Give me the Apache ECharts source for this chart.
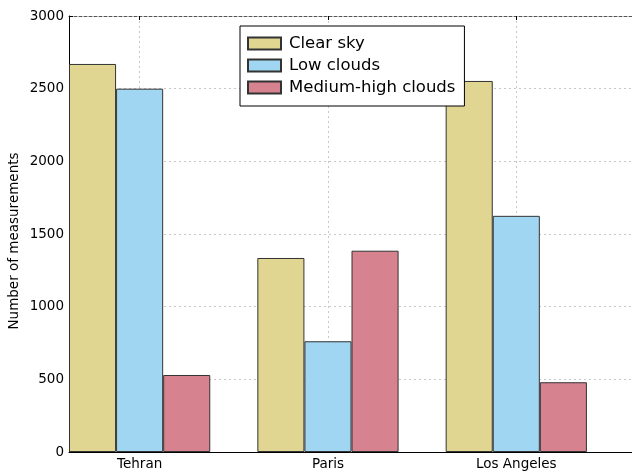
<!DOCTYPE html>
<html>
<head>
<meta charset="utf-8">
<script src="https://cdn.jsdelivr.net/npm/echarts@6/dist/echarts.min.js"></script>
<style>
html,body{margin:0;padding:0;background:#fff;}
#chart{width:632px;height:472px;}
</style>
</head>
<body>
<div id="chart"></div>
<script>
const cities = ['Tehran', 'Paris', 'Los Angeles'];
const seriesNames = ['Clear sky', 'Low clouds', 'Medium-high clouds'];
const clearSky = [2670, 1335, 2553];
const lowClouds = [2500, 762, 1625];
const mediumHighClouds = [530, 1385, 480];
const yTicks = [0, 500, 1000, 1500, 2000, 2500, 3000];
const colors = ['#e0d591', '#a0d6f1', '#d6828f'];

// 4 slots per city: 3 bars + 1 gap; city label on the middle bar slot
const slotCats = [];
cities.forEach(c => { slotCats.push(c + '#0', c, c + '#2', c + '#gap'); });
const labelOf = v => (v.indexOf('#') >= 0 ? '' : v);
const isLabelIdx = i => i % 4 === 1;

function buildSeriesData(vals, offset) {
  const out = slotCats.map(() => '-');
  vals.forEach((v, i) => { out[i * 4 + offset] = v; });
  return out;
}
const allVals = [clearSky, lowClouds, mediumHighClouds];

const chart = echarts.init(document.getElementById('chart'), null, {renderer: 'canvas'});
const font = 'DejaVu Sans';
chart.setOption({
  animation: false,
  textStyle: {fontFamily: font},
  grid: {left: 69, top: 16, bottom: 20, right: -2, containLabel: false, outerBoundsMode: 'none'},
  legend: {
    data: seriesNames,
    orient: 'vertical',
    left: 240, top: 26,
    padding: [9, 9, 10, 7],
    itemWidth: 33, itemHeight: 12, itemGap: 5,
    backgroundColor: '#fff',
    borderColor: '#000', borderWidth: 1, borderRadius: 0,
    icon: 'rect',
    textStyle: {fontFamily: font, fontSize: 16.5, lineHeight: 17, color: '#000', padding: [0, 0, 0, 3]}
  },
  xAxis: [{
    type: 'category',
    data: slotCats,
    position: 'bottom',
    boundaryGap: true,
    axisLine: {lineStyle: {color: '#000', width: 1}},
    axisTick: {show: true, inside: true, length: 4, alignWithLabel: true, interval: isLabelIdx, lineStyle: {color: '#000'}},
    axisLabel: {interval: isLabelIdx, formatter: labelOf, color: '#000', fontSize: 13.5, fontFamily: font, margin: 5},
    splitLine: {show: true, interval: isLabelIdx, alignWithLabel: true, lineStyle: {color: '#c8c8c8', type: [2, 3], width: 1}}
  }, {
    type: 'category',
    data: slotCats,
    position: 'top',
    boundaryGap: true,
    axisLine: {lineStyle: {color: '#555', width: 1, type: [3, 2]}},
    axisTick: {show: true, inside: true, length: 4, alignWithLabel: true, interval: isLabelIdx, lineStyle: {color: '#000'}},
    axisLabel: {show: false},
    splitLine: {show: false}
  }],
  yAxis: {
    type: 'value',
    min: yTicks[0], max: yTicks[yTicks.length - 1], interval: yTicks[1] - yTicks[0],
    name: 'Number of measurements',
    nameLocation: 'middle',
    nameGap: 48,
    nameRotate: 90,
    nameMoveOverlap: false,
    nameTextStyle: {color: '#000', fontSize: 13.5, fontFamily: font, padding: [0, 14, 0, 0]},
    axisLine: {show: true, lineStyle: {color: '#000', width: 1}},
    axisTick: {show: true, inside: true, length: 4, lineStyle: {color: '#000'}},
    axisLabel: {color: '#000', fontSize: 13.5, fontFamily: font, margin: 5, formatter: v => String(v)},
    splitLine: {show: true, lineStyle: {color: '#c8c8c8', type: [2, 3], width: 1}}
  },
  series: seriesNames.map((name, k) => ({
    name: name,
    type: 'bar',
    stack: 'all',
    barWidth: '100%',
    barCategoryGap: '0%',
    data: buildSeriesData(allVals[k], k),
    itemStyle: {color: colors[k], borderColor: '#333', borderWidth: 1}
  }))
});
</script>
</body>
</html>
